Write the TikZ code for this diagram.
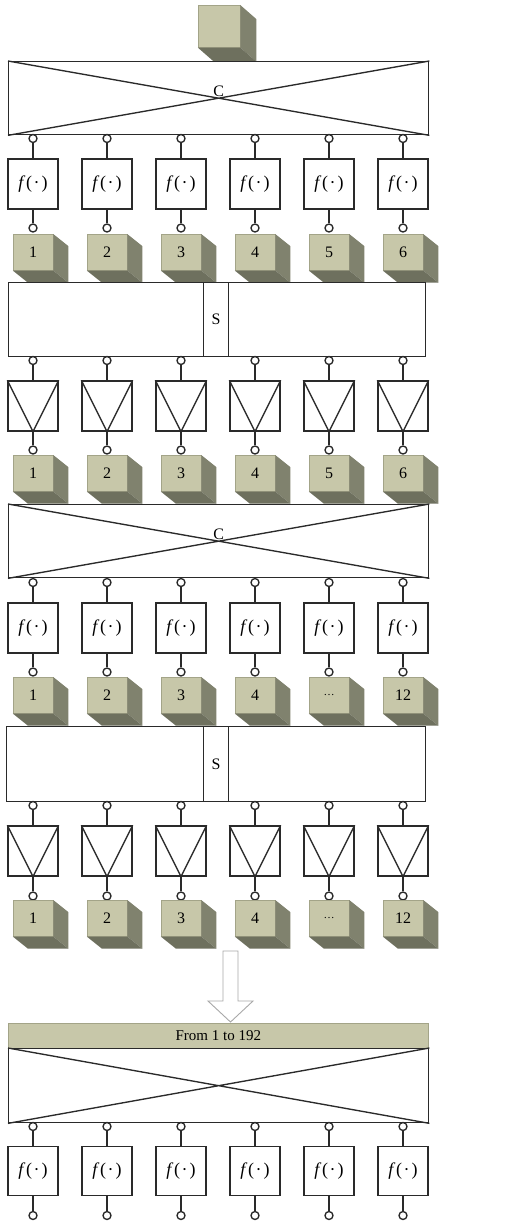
\documentclass[tikz,border=0pt]{standalone}
\usepackage{fontspec}
\setmainfont{Liberation Serif}
\usetikzlibrary{calc}

\definecolor{linec}{HTML}{2A2A2A}
\definecolor{cubefront}{HTML}{C7C7A9}
\definecolor{cubeside}{HTML}{80826E}
\definecolor{cubebottom}{HTML}{6E705E}
\definecolor{cubeedge}{HTML}{A3A488}
\definecolor{arrowc}{HTML}{A8A8A8}

\tikzset{
  ln/.style={draw=linec, line width=1.35pt},
  bigbox/.style={ln, rectangle, inner sep=0pt, minimum height=73pt, fill=white},
  fbox/.style={ln, rectangle, inner sep=0pt, minimum width=50pt, minimum height=50pt, fill=white,
    font=\fontsize{18}{18}\selectfont},
  tribox/.style={ln, rectangle, inner sep=0pt, minimum width=50pt, minimum height=50pt, fill=white},
  pin/.style={ln, circle, inner sep=0pt, minimum size=8pt, fill=white},
  cubeface/.style={rectangle, inner sep=0pt, fill=cubefront, draw=cubeedge, line width=0.5pt,
    font=\fontsize{16}{16}\selectfont},
  lbl/.style={inner sep=1pt, font=\fontsize{16}{16}\selectfont},
}

% #1 name, #2 centre x, #3 top y, #4 width, #5 height, #6 depth x, #7 depth y, #8 label
\newcommand\blockcube[8]{%
  \node[cubeface, minimum width=#4pt, minimum height=#5pt, anchor=north] (#1) at (#2,#3) {#8};
  \fill[cubeside] (#1.north east) -- ($(#1.north east)+(#6,#7)$) -- ($(#1.south east)+(#6,#7)$) -- (#1.south east) -- cycle;
  \fill[cubebottom] (#1.south west) -- (#1.south east) -- ($(#1.south east)+(#6,#7)$) -- ($(#1.south west)+(#6,#7)$) -- cycle;
}
\newcommand\fdot{\textit{f}\kern0.5pt(\kern1.5pt\textperiodcentered\kern2pt)}
\newcommand\moredots{{\fontsize{11}{11}\selectfont\ldots}}

\begin{document}
\begin{tikzpicture}[x=1pt, y=-1pt, line join=miter]
\useasboundingbox (0,0) rectangle (519,1224);
\fill[white] (0,0) rectangle (519,1224);

% ---- input block
\blockcube{src}{219}{5}{42}{42}{16}{14}{}

% ---- first combiner
\node[bigbox, minimum width=420pt, anchor=north west] (C1) at (8,61) {};
\draw[ln] (C1.north west) -- (C1.south east) (C1.south west) -- (C1.north east);
\node[lbl, anchor=south] (C1lab) at (C1.center) {C};

\foreach \i/\t in {1/1,2/2,3/3,4/4,5/5,6/6} {
  \pgfmathsetmacro\cx{33+74*(\i-1)}
  \node[pin] (a1\i) at (\cx,138.5) {};
  \node[fbox] (f1\i) at (\cx,184) {\fdot};
  \node[pin] (b1\i) at (\cx,228) {};
  \draw[ln] (a1\i) -- (f1\i);
  \draw[ln] (f1\i) -- (b1\i);
  \blockcube{q1\i}{\cx}{234}{40}{36}{15}{12}{\t}
}

% ---- first splitter
\node[bigbox, minimum width=417pt, minimum height=74pt, anchor=north west] (S1) at (8,282) {};
\node[ln, rectangle, inner sep=0pt, minimum width=25pt, minimum height=74pt, anchor=north west,
  font=\fontsize{16}{16}\selectfont] (S1lab) at (203,282) {S};

\foreach \i/\t in {1/1,2/2,3/3,4/4,5/5,6/6} {
  \pgfmathsetmacro\cx{33+74*(\i-1)}
  \node[pin] (c1\i) at (\cx,360.5) {};
  \node[tribox] (t1\i) at (\cx,406) {};
  \draw[ln] (t1\i.north west) -- (t1\i.south) -- (t1\i.north east);
  \node[pin] (d1\i) at (\cx,450) {};
  \draw[ln] (c1\i) -- (t1\i);
  \draw[ln] (t1\i) -- (d1\i);
  \blockcube{r1\i}{\cx}{455}{40}{36}{15}{12}{\t}
}

% ---- second combiner
\node[bigbox, minimum width=420pt, anchor=north west] (C2) at (8,504) {};
\draw[ln] (C2.north west) -- (C2.south east) (C2.south west) -- (C2.north east);
\node[lbl, anchor=south] (C2lab) at (C2.center) {C};

\foreach \i/\t in {1/1,2/2,3/3,4/4,5/\moredots,6/12} {
  \pgfmathsetmacro\cx{33+74*(\i-1)}
  \node[pin] (a2\i) at (\cx,582.5) {};
  \node[fbox] (f2\i) at (\cx,628) {\fdot};
  \node[pin] (b2\i) at (\cx,672) {};
  \draw[ln] (a2\i) -- (f2\i);
  \draw[ln] (f2\i) -- (b2\i);
  \blockcube{q2\i}{\cx}{677}{40}{36}{15}{12}{\t}
}

% ---- second splitter
\node[bigbox, minimum width=419pt, minimum height=75pt, anchor=north west] (S2) at (6,726) {};
\node[ln, rectangle, inner sep=0pt, minimum width=25pt, minimum height=75pt, anchor=north west,
  font=\fontsize{16}{16}\selectfont] (S2lab) at (203,726) {S};

\foreach \i/\t in {1/1,2/2,3/3,4/4,5/\moredots,6/12} {
  \pgfmathsetmacro\cx{33+74*(\i-1)}
  \node[pin] (c2\i) at (\cx,805.5) {};
  \node[tribox] (t2\i) at (\cx,851) {};
  \draw[ln] (t2\i.north west) -- (t2\i.south) -- (t2\i.north east);
  \node[pin] (d2\i) at (\cx,896) {};
  \draw[ln] (c2\i) -- (t2\i);
  \draw[ln] (t2\i) -- (d2\i);
  \blockcube{r2\i}{\cx}{900}{40}{36}{15}{12}{\t}
}

% ---- hollow arrow down to the final stage
\coordinate (tip) at (230.5,1022);
\draw[draw=arrowc, fill=white, line width=0.9pt]
  (223,951) -- (238,951) -- (238,1001) -- (253,1001) -- (tip) -- (208,1001) -- (223,1001) -- cycle;

% ---- final combiner with header bar
\node[rectangle, inner sep=0pt, minimum width=420pt, minimum height=25pt, anchor=north west,
  fill=cubefront, draw=cubeedge, line width=0.6pt, font=\fontsize{15}{15}\selectfont] (bar) at (8,1023) {From 1 to 192};
\node[bigbox, minimum width=420pt, minimum height=74pt, anchor=north west] (C3) at (8,1048) {};
\draw[ln] (C3.north west) -- (C3.south east) (C3.south west) -- (C3.north east);

\foreach \i in {1,...,6} {
  \pgfmathsetmacro\cx{33+74*(\i-1)}
  \node[pin] (a3\i) at (\cx,1126.5) {};
  \node[fbox, minimum height=49pt] (f3\i) at (\cx,1171) {\fdot};
  \node[pin] (b3\i) at (\cx,1215.5) {};
  \draw[ln] (a3\i) -- (f3\i);
  \draw[ln] (f3\i) -- (b3\i);
}
\end{tikzpicture}
\end{document}
